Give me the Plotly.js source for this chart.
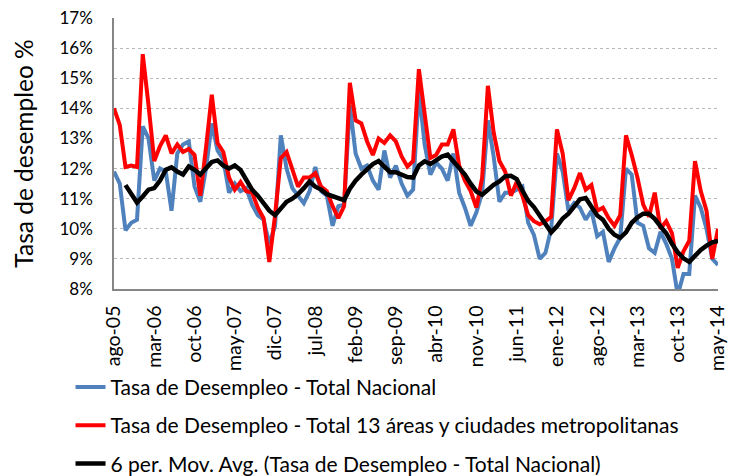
<!DOCTYPE html>
<html>
<head>
<meta charset="utf-8">
<script src="https://cdn.plot.ly/plotly-3.0.1.min.js"></script>
<style>
  body { margin: 0; background: #fff; }
  #chart { width: 729px; height: 476px; }
</style>
</head>
<body>
<div id="chart"></div>
<script>
// monthly, ago-05 .. may-14
const monthNames = ['ene', 'feb', 'mar', 'abr', 'may', 'jun', 'jul', 'ago', 'sep', 'oct', 'nov', 'dic'];

const nacional = [
  11.9, 11.5, 9.95, 10.2, 10.3, 13.4, 13.0, 11.6, 12.0, 11.9, 10.6, 12.5,
  12.8, 12.9, 11.4, 10.9, 12.0, 13.5, 12.6, 12.3, 11.2, 11.5, 11.25, 11.35,
  10.8, 10.45, 10.3, 9.5, 10.1, 13.1, 12.0, 11.35, 11.1, 10.85, 11.25, 12.05,
  11.25, 11.1, 10.1, 10.75, 10.8, 14.1, 12.5, 12.0, 12.1, 11.6, 11.3, 12.6,
  11.7, 12.1, 11.5, 11.1, 11.3, 14.6, 12.8, 11.8, 12.2, 12.0, 11.6, 12.5,
  11.2, 10.7, 10.1, 10.55, 11.2, 13.6, 12.4, 10.9, 11.2, 11.2, 11.3, 11.4,
  10.2, 9.8, 9.0, 9.2, 10.0, 12.5, 11.9, 10.6, 10.85, 10.7, 10.3, 10.6,
  9.75, 9.9, 8.9, 9.35, 9.7, 12.0, 11.8, 10.2, 10.1, 9.35, 9.2, 9.9,
  9.5, 9.0, 7.8, 8.5, 8.5, 11.1, 10.7, 10.0, 9.0, 8.8
];

const areas13 = [
  14.0, 13.45, 12.05, 12.1, 12.05, 15.8, 14.1, 12.25, 12.75, 13.1, 12.5, 12.8,
  12.55, 12.65, 12.45, 11.1, 12.7, 14.45, 12.85, 12.55, 11.7, 11.3, 11.55, 11.25,
  11.2, 10.7, 10.35, 8.9, 10.45, 12.35, 12.55, 12.0, 11.4, 11.7, 11.7, 11.85,
  11.4, 11.25, 10.75, 10.35, 10.75, 14.85, 13.6, 13.5, 12.9, 12.45, 13.0, 12.85,
  13.1, 12.9, 12.4, 12.07, 12.25, 15.3, 13.7, 12.35, 12.45, 12.8, 12.8, 13.3,
  12.1, 11.6, 11.25, 10.7, 11.7, 14.75, 13.2, 12.25, 11.9, 11.1, 11.55, 11.1,
  10.45, 10.25, 10.15, 10.25, 10.4, 13.3, 12.5, 10.95, 11.35, 11.85, 11.3, 11.45,
  10.6, 10.7, 10.35, 10.1, 10.45, 13.1, 12.45, 11.7, 10.8, 10.4, 11.2, 10.0,
  10.25, 9.85, 8.7, 9.25, 9.6, 12.25, 11.25, 10.6, 9.0, 10.0
];

const movAvg = [
  null, null, 11.45, 11.13, 10.87, 11.07, 11.3, 11.35, 11.6, 11.96, 12.04, 11.9,
  11.8, 12.07, 11.96, 11.8, 12.0, 12.22, 12.27, 12.1, 12.0, 12.1, 11.95, 11.6,
  11.3, 11.1, 10.85, 10.6, 10.45, 10.7, 10.9, 11.0, 11.15, 11.35, 11.57, 11.4,
  11.3, 11.15, 11.07, 11.0, 10.95, 11.33, 11.6, 11.8, 12.0, 12.15, 12.25, 12.05,
  11.88, 11.88, 11.8, 11.72, 11.7, 12.1, 12.24, 12.15, 12.27, 12.4, 12.46, 12.24,
  12.0, 11.8, 11.5, 11.24, 11.13, 11.3, 11.46, 11.57, 11.74, 11.76, 11.65, 11.27,
  10.93, 10.72, 10.44, 10.15, 9.88, 10.08, 10.34, 10.5, 10.72, 10.98, 11.02, 10.72,
  10.44, 10.3, 10.0, 9.8, 9.7, 9.88, 10.2, 10.38, 10.5, 10.5, 10.33, 10.08,
  9.85, 9.5, 9.22, 9.02, 8.9, 9.1, 9.3, 9.44, 9.55, 9.6
];

// category labels like "ago-05"
const months = [];
for (let k = 0; k < nacional.length; k++) {
  const m = (7 + k) % 12;
  const y = 5 + Math.floor((7 + k) / 12);
  months.push(monthNames[m] + '-' + String(y).padStart(2, '0'));
}
const tickLabels = months.filter((d, k) => k % 7 === 0);

const font = 'Lato, "Open Sans", sans-serif';

const data = [
  {
    x: months,
    y: nacional,
    type: 'scatter',
    mode: 'lines',
    name: 'Tasa de Desempleo - Total Nacional',
    legendgroup: 'a',
    line: { color: '#4f81bd', width: 4 }
  },
  {
    x: months,
    y: areas13,
    type: 'scatter',
    mode: 'lines',
    name: 'Tasa de Desempleo - Total 13 áreas y ciudades metropolitanas',
    legendgroup: 'b',
    line: { color: '#ff0000', width: 4 }
  },
  {
    x: months,
    y: movAvg,
    type: 'scatter',
    mode: 'lines',
    name: '6 per. Mov. Avg. (Tasa de Desempleo - Total Nacional)',
    legendgroup: 'c',
    line: { color: '#000000', width: 4.5 }
  }
];

const layout = {
  width: 729,
  height: 476,
  margin: { l: 114, r: 11, t: 18, b: 187, autoexpand: false },
  paper_bgcolor: '#fff',
  plot_bgcolor: '#fff',
  font: { family: font, size: 18, color: '#000' },
  showlegend: true,
  legend: {
    orientation: 'v',
    x: -0.072,
    xanchor: 'left',
    y: -0.287,
    yanchor: 'top',
    traceorder: 'grouped',
    tracegroupgap: 8,
    font: { family: font, size: 21, color: '#000' },
    bgcolor: 'rgba(0,0,0,0)'
  },
  xaxis: {
    type: 'category',
    categoryorder: 'array',
    categoryarray: months,
    range: [0, months.length - 1],
    tickmode: 'array',
    tickvals: tickLabels,
    ticktext: tickLabels,
    tickangle: -90,
    ticks: '',
    ticklabelstandoff: 7,
    automargin: false,
    showgrid: false,
    zeroline: false,
    showline: true,
    linecolor: '#868686',
    linewidth: 1.5,
    tickfont: { family: font, size: 19.5, color: '#000' }
  },
  yaxis: {
    range: [8, 17],
    dtick: 1,
    ticksuffix: '%',
    ticks: '',
    ticklabelstandoff: 16,
    automargin: false,
    showgrid: true,
    gridcolor: '#b8b8b8',
    griddash: 'dot',
    gridwidth: 1,
    zeroline: false,
    showline: true,
    linecolor: '#868686',
    linewidth: 1.5,
    tickfont: { family: font, size: 17, color: '#000' },
    title: {
      text: 'Tasa de desempleo %',
      font: { family: font, size: 24.5, color: '#000' },
      standoff: 19
    }
  }
};

Plotly.newPlot('chart', data, layout, { displayModeBar: false });
</script>
</body>
</html>
